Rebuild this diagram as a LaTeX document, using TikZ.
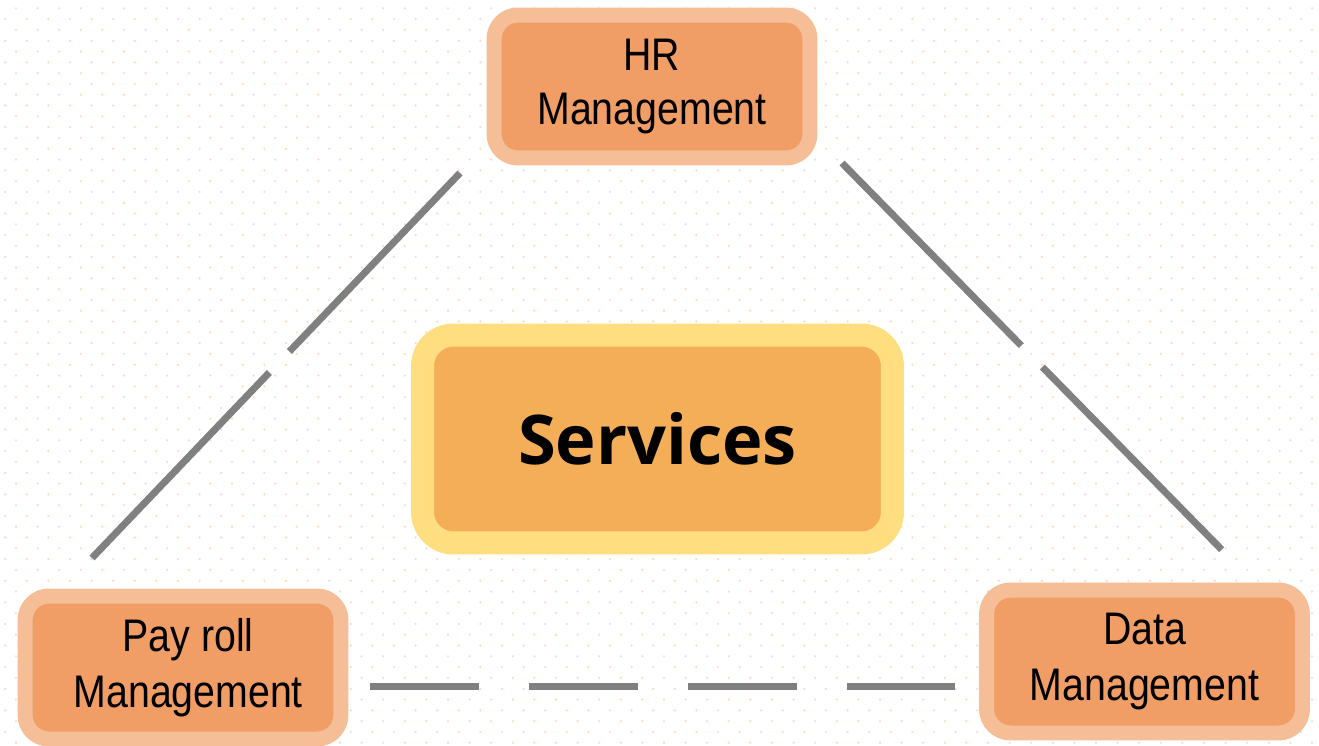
\documentclass[tikz,border=0pt]{standalone}
\usepackage{fontspec}
\newfontfamily\boxfont{Liberation Sans}[FakeStretch=0.86]
\newfontfamily\hubfont{Open Sans}
\definecolor{ringpeach}{RGB}{245,190,150}
\definecolor{fillpeach}{RGB}{241,157,102}
\definecolor{ringyellow}{RGB}{255,222,128}
\definecolor{fillorange}{RGB}{244,174,88}
\definecolor{linkgray}{RGB}{128,128,128}
\definecolor{dotpeach}{RGB}{250,221,200}
\tikzset{
	mgmt/.style={draw=ringpeach, line width=0.3cm, fill=fillpeach, rounded corners=0.48cm,
		minimum width=6.32cm, minimum height=2.86cm, inner sep=0pt, align=center,
		font=\boxfont\fontsize{26}{31.7}\selectfont},
	hub/.style={draw=ringyellow, line width=0.46cm, fill=fillorange, rounded corners=0.62cm,
		minimum width=9.4cm, minimum height=4.16cm, inner sep=0pt,
		font=\hubfont\bfseries\fontsize{39}{46}\selectfont},
	link/.style={draw=linkgray, line width=0.14cm}
}
\begin{document}
\begin{tikzpicture}[x=0.02cm,y=-0.02cm]
	\useasboundingbox (0,0) rectangle (1319,745);
	% dotted paper
	\foreach \i in {0,...,68}
		\foreach \j in {0,...,61}
			\fill[dotpeach] ({16-10.8*mod(\i,2)+21.6*\j},{8.3+10.8*\i}) circle (1.3);
	% boxes
	\node[mgmt] (hr) at (652,86.5) {\raisebox{-3pt}{HR}\\\raisebox{-2pt}{Management}};
	\node[mgmt] (pay) at (183,667.5) {\hspace{6pt}Pay roll\\\hspace{6pt}Management};
	\node[mgmt] (data) at (1144.5,661.5) {Data\\Management};
	\node[hub] (serv) at (657.5,439) {Services};
	% line ends
	\coordinate (hrL) at (460,173);
	\coordinate (payT) at (92,558);
	\coordinate (hrR) at (842,163);
	\coordinate (dataT) at (1222,550);
	\coordinate (payR) at (370,686);
	\coordinate (dataL) at (955,686);
	\path[link, dash pattern=on 4.94cm off 0.58cm on 5.3cm off 1cm] (hrL) -- (payT);
	\path[link, dash pattern=on 5.12cm off 0.6cm] (hrR) -- (dataT);
	\path[link, dash pattern=on 2.18cm off 1cm] (payR) -- (dataL);
\end{tikzpicture}
\end{document}
